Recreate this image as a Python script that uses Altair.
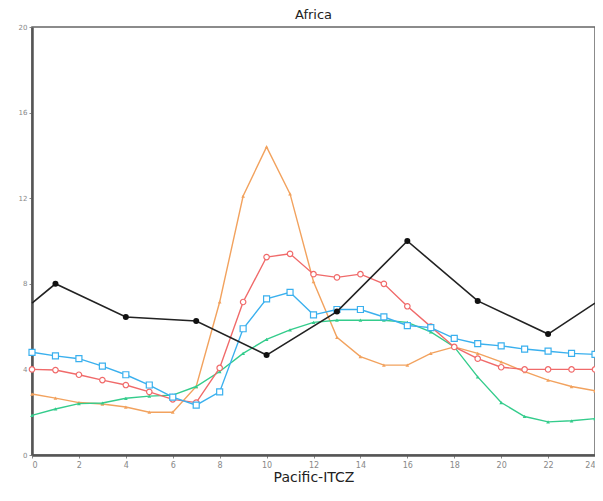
import altair as alt
import pandas as pd

hours = list(range(0, 25))
orange = [2.85, 2.66, 2.45, 2.38, 2.24, 2.0, 2.0, 3.2, 7.15, 12.1, 14.4, 12.2, 8.1, 5.5, 4.6, 4.2, 4.2, 4.75, 5.05, 4.75, 4.35, 3.9, 3.5, 3.2, 3.0]
red = [4.0, 3.97, 3.75, 3.5, 3.27, 2.95, 2.6, 2.45, 4.07, 7.15, 9.25, 9.4, 8.45, 8.3, 8.45, 8.0, 6.95, 6.0, 5.05, 4.5, 4.1, 4.0, 4.0, 4.0, 4.0]
blue = [4.8, 4.63, 4.5, 4.15, 3.75, 3.27, 2.7, 2.33, 2.95, 5.9, 7.3, 7.6, 6.55, 6.8, 6.8, 6.45, 6.05, 5.95, 5.45, 5.2, 5.1, 4.95, 4.85, 4.75, 4.7]
green = [1.85, 2.15, 2.4, 2.43, 2.65, 2.75, 2.8, 3.2, 3.9, 4.75, 5.4, 5.85, 6.2, 6.3, 6.3, 6.3, 6.2, 5.75, 5.05, 3.65, 2.45, 1.8, 1.55, 1.6, 1.7]
black_x = [0, 1, 4, 7, 10, 13, 16, 19, 22, 24]
black_y = [7.1, 8.0, 6.45, 6.26, 4.67, 6.7, 10.0, 7.2, 5.65, 7.1]
black_marker = [False, True, True, True, True, True, True, True, True, False]

x_ticks = list(range(0, 25, 2))
y_ticks = [0, 4, 8, 12, 16, 20]

xs = alt.Scale(domain=[0, 24], nice=False)
ys = alt.Scale(domain=[0, 20], nice=False)
xax = alt.Axis(values=x_ticks, title="Pacific-ITCZ", grid=False, labelFontSize=8, labelColor="#888",
               tickSize=3, tickColor="#888", domainColor="#555", domainWidth=2.5,
               titleFontSize=14, titleFontWeight="normal", titleColor="#222", titlePadding=1,
               labelPadding=3, labelFont="DejaVu Sans", titleFont="DejaVu Sans")
yax = alt.Axis(values=y_ticks, title=None, grid=False, labelFontSize=7, labelColor="#888",
               tickSize=3, tickColor="#888", domainColor="#555", domainWidth=2.5, labelPadding=2,
               labelFont="DejaVu Sans")

def series(vals, name):
    return pd.DataFrame({"hour": hours, "val": vals, "s": name})

layers = []
specs = [
    (orange, "orange", "#f2a25e", "triangle-up", True, 14),
    (green, "green", "#34cc8c", "triangle-up", True, 14),
    (red, "red", "#f06a6a", "circle", False, 30),
    (blue, "blue", "#3ab0ee", "square", False, 36),
]
for vals, name, col, shape, filled, size in specs:
    df = series(vals, name)
    base = alt.Chart(df)
    line = base.mark_line(color=col, strokeWidth=1.4).encode(
        x=alt.X("hour:Q", scale=xs, axis=xax), y=alt.Y("val:Q", scale=ys, axis=yax))
    pts = base.mark_point(color=col, shape=shape, filled=filled, size=size, strokeWidth=1.2,
                          opacity=1, fill=col if filled else "white").encode(
        x=alt.X("hour:Q", scale=xs), y=alt.Y("val:Q", scale=ys))
    layers += [line, pts]

bdf = pd.DataFrame({"hour": black_x, "val": black_y, "m": black_marker})
bline = alt.Chart(bdf).mark_line(color="#222", strokeWidth=1.6).encode(
    x=alt.X("hour:Q", scale=xs), y=alt.Y("val:Q", scale=ys))
bpts = alt.Chart(bdf).transform_filter("datum.m").mark_point(
    color="#111", filled=True, size=36, opacity=1).encode(
    x=alt.X("hour:Q", scale=xs), y=alt.Y("val:Q", scale=ys))
layers += [bline, bpts]

chart = alt.layer(*layers).properties(
    width=563, height=428,
    title=alt.TitleParams("Africa", fontSize=13, fontWeight="normal", font="DejaVu Sans",
                          color="#222", offset=1),
    autosize=alt.AutoSizeParams(type="none"),
    padding={"left": 24, "top": 19, "right": 0, "bottom": 29},
    background="white",
).configure_view(stroke="#666", strokeWidth=1.5)

chart.save("out.html", embed_options={"renderer": "svg", "actions": False})
